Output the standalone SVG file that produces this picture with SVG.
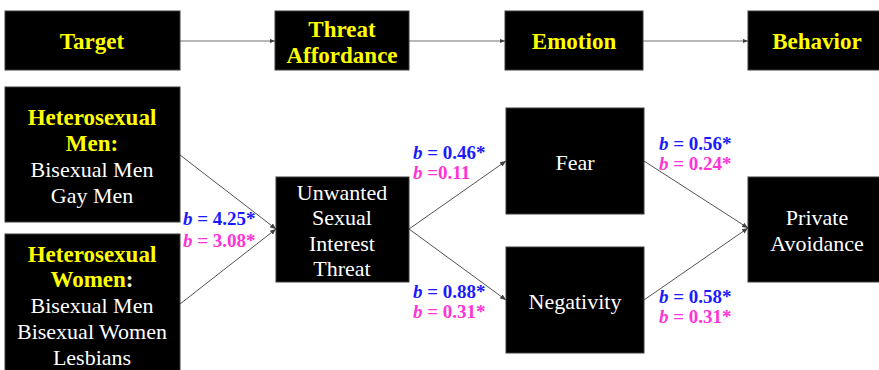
<svg xmlns="http://www.w3.org/2000/svg" width="879" height="370" viewBox="0 0 879 370">
<defs>
<style>
.box{fill:#000;stroke:#3c3c3c;stroke-width:1}
.hd{font-family:"Liberation Serif",serif;font-weight:bold;font-size:23px;fill:#ffff00;text-anchor:middle;dominant-baseline:central}
.tx{font-family:"Liberation Serif",serif;font-size:22px;fill:#fff;text-anchor:middle;dominant-baseline:central}
.lb{font-family:"Liberation Serif",serif;font-weight:bold;font-size:19px;dominant-baseline:central}
.bl{fill:#1a1aff}
.mg{fill:#ff33d6}
.ib{font-style:italic}
.top{stroke:#a0a0a0;stroke-width:1.6;fill:none}
.ln{stroke:#404040;stroke-width:0.9;fill:none}
</style>
<marker id="ah" viewBox="0 0 6 6" refX="6" refY="3" markerWidth="6" markerHeight="6" markerUnits="userSpaceOnUse" orient="auto">
<path d="M0,0.5 L6,3 L0,5.5 z" fill="#404040"/>
</marker>
<marker id="ah2" viewBox="0 0 6 6" refX="6" refY="3" markerWidth="5" markerHeight="5" markerUnits="userSpaceOnUse" orient="auto">
<path d="M0,0.5 L6,3 L0,5.5 z" fill="#404040"/>
</marker>
</defs>
<rect width="879" height="370" fill="#fff"/>
<g id="connectors">
<line class="top" x1="180" y1="41" x2="275" y2="41" marker-end="url(#ah2)"/>
<line class="top" x1="409" y1="41" x2="505" y2="41" marker-end="url(#ah2)"/>
<line class="top" x1="643" y1="41" x2="748" y2="41" marker-end="url(#ah2)"/>
<line class="ln" x1="180" y1="155" x2="276" y2="229" marker-end="url(#ah)"/>
<line class="ln" x1="180" y1="304" x2="276" y2="229" marker-end="url(#ah)"/>
<line class="ln" x1="409" y1="229" x2="506" y2="161" marker-end="url(#ah)"/>
<line class="ln" x1="409" y1="229" x2="506" y2="300" marker-end="url(#ah)"/>
<line class="ln" x1="644" y1="161" x2="748" y2="228" marker-end="url(#ah)"/>
<line class="ln" x1="644" y1="300" x2="748" y2="228" marker-end="url(#ah)"/>
</g>
<g id="target">
<rect class="box" x="5" y="11" width="175" height="59"/>
<text class="hd" x="92" y="41">Target</text>
</g>
<g id="threat-affordance">
<rect class="box" x="275" y="11" width="134" height="59"/>
<text class="hd" x="342" y="29">Threat</text>
<text class="hd" x="342" y="55">Affordance</text>
</g>
<g id="emotion">
<rect class="box" x="505" y="11" width="138" height="59"/>
<text class="hd" x="574" y="41">Emotion</text>
</g>
<g id="behavior">
<rect class="box" x="748" y="11" width="135" height="59"/>
<text class="hd" x="817" y="41">Behavior</text>
</g>
<g id="hetero-men">
<rect class="box" x="5" y="87" width="175" height="135"/>
<text class="hd" x="92" y="117">Heterosexual</text>
<text class="hd" x="92" y="143">Men:</text>
<text class="tx" x="92" y="169">Bisexual Men</text>
<text class="tx" x="92" y="195">Gay Men</text>
</g>
<g id="hetero-women">
<rect class="box" x="5" y="234" width="175" height="140"/>
<text class="hd" x="92" y="254">Heterosexual</text>
<text class="hd" x="92" y="279">Women<tspan fill="#f4f4d0">:</tspan></text>
<text class="tx" x="92" y="305">Bisexual Men</text>
<text class="tx" x="92" y="331">Bisexual Women</text>
<text class="tx" x="92" y="357">Lesbians</text>
</g>
<g id="usit">
<rect class="box" x="276" y="177" width="133" height="105"/>
<text class="tx" x="342" y="192">Unwanted</text>
<text class="tx" x="342" y="217">Sexual</text>
<text class="tx" x="342" y="243">Interest</text>
<text class="tx" x="342" y="268">Threat</text>
</g>
<g id="fear">
<rect class="box" x="506" y="108" width="138" height="106"/>
<text class="tx" x="575" y="162">Fear</text>
</g>
<g id="negativity">
<rect class="box" x="506" y="247" width="138" height="106"/>
<text class="tx" x="575" y="301">Negativity</text>
</g>
<g id="private-avoidance">
<rect class="box" x="748" y="177" width="135" height="105"/>
<text class="tx" x="817" y="217">Private</text>
<text class="tx" x="817" y="243">Avoidance</text>
</g>
<g id="labels">
<text class="lb bl" x="183" y="218"><tspan class="ib">b</tspan> = 4.25*</text>
<text class="lb mg" x="183" y="240"><tspan class="ib">b</tspan> = 3.08*</text>
<text class="lb bl" x="413" y="152"><tspan class="ib">b</tspan> = 0.46*</text>
<text class="lb mg" x="413" y="172"><tspan class="ib">b</tspan> =0.11</text>
<text class="lb bl" x="413" y="291"><tspan class="ib">b</tspan> = 0.88*</text>
<text class="lb mg" x="413" y="311"><tspan class="ib">b</tspan> = 0.31*</text>
<text class="lb bl" x="659" y="143"><tspan class="ib">b</tspan> = 0.56*</text>
<text class="lb mg" x="659" y="163"><tspan class="ib">b</tspan> = 0.24*</text>
<text class="lb bl" x="659" y="296"><tspan class="ib">b</tspan> = 0.58*</text>
<text class="lb mg" x="659" y="316"><tspan class="ib">b</tspan> = 0.31*</text>
</g>
</svg>
